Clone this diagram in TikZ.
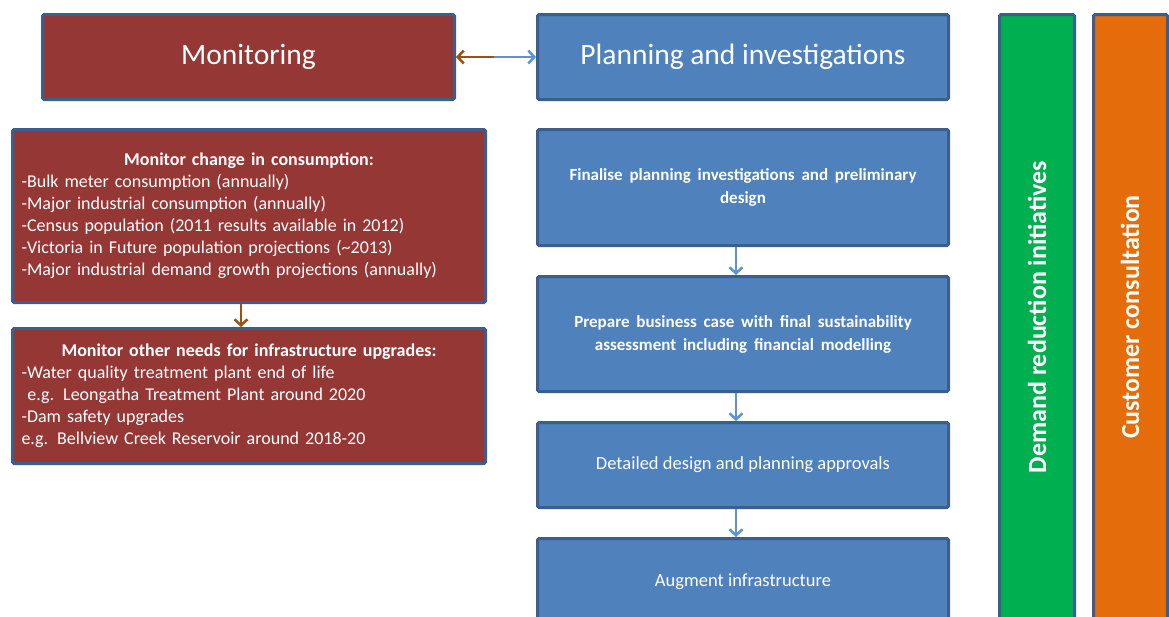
\documentclass[tikz,border=0pt]{standalone}
\usepackage{fontspec}
\setmainfont{Carlito}
\usetikzlibrary{arrows.meta,calc}
\definecolor{bordblue}{HTML}{3B5E8C}
\definecolor{redfill}{HTML}{953735}
\definecolor{bluefill}{HTML}{4F81BD}
\definecolor{greenfill}{HTML}{00B050}
\definecolor{orangefill}{HTML}{E46C0A}
\definecolor{brownarrow}{HTML}{A0500A}
\definecolor{bluearrow}{HTML}{5A93DA}
\newcommand\widewords{\spaceskip=0.4em plus 0.1em\relax}
\newcommand\listwords{\spaceskip=0.3em plus 0.1em\relax}
\tikzset{
  box/.style={draw=bordblue, line width=3pt, rounded corners=1.5pt, text=white, inner sep=0pt},
  redbox/.style={box, fill=redfill},
  bluebox/.style={box, fill=bluefill},
  bigtext/.style={font=\fontsize{29.5}{34}\selectfont},
  steptext/.style={font=\fontsize{18.5}{23}\selectfont, align=center},
  boldstep/.style={font=\bfseries\fontsize{17}{23}\selectfont\widewords, align=center},
  listtext/.style={font=\fontsize{18}{22}\selectfont\listwords, align=left},
  brownarr/.style={draw=brownarrow, line width=2.5pt, -{Straight Barb[length=6pt,width=13pt]}},
  bluearr/.style={draw=bluearrow, line width=2.5pt, -{Straight Barb[length=6pt,width=13pt]}},
  bartext/.style={rotate=90, text=white, font=\bfseries\fontsize{26}{30}\selectfont},
}
\begin{document}
\begin{tikzpicture}[x=1pt,y=-1pt]
\useasboundingbox (0,0) rectangle (1169,616);
\clip (0,0) rectangle (1169,616);
% top boxes
\node[redbox, bigtext, minimum width=412, minimum height=85, anchor=north west] (mon) at (41,13) {Monitoring};
\node[bluebox, bigtext, minimum width=411, minimum height=85, anchor=north west] (plan) at (536,13) {Planning and investigations};
\coordinate (mid) at ($(mon.east)!0.48!(plan.west)$);
\draw[brownarr] (mid) -- (mon.east);
\draw[bluearr] (mid) -- (plan.west);
% left boxes
\node[redbox, listtext, minimum width=473, minimum height=173, text width=455, anchor=north west] (cons) at (11,128)
{\makebox[\linewidth][c]{\bfseries Monitor change in consumption:}\\
-Bulk meter consumption (annually)\\
-Major industrial consumption (annually)\\
-Census population (2011 results available in 2012)\\
-Victoria in Future population projections (\textasciitilde2013)\\
-Major industrial demand growth projections (annually)};
\node[redbox, listtext, minimum width=473, minimum height=135, text width=455, anchor=north west] (other) at (11,327)
{\makebox[\linewidth][c]{\bfseries Monitor other needs for infrastructure upgrades:}\\
-Water quality treatment plant end of life\\
\ e.g. Leongatha Treatment Plant around 2020\\
-Dam safety upgrades\\
e.g. Bellview Creek Reservoir around 2018-20};
\draw[brownarr] (cons.south -| 241,0) -- (other.north -| 241,0);
% planning steps
\node[bluebox, boldstep, minimum width=411, minimum height=116, anchor=north west] (fin) at (536,128)
{Finalise planning investigations and preliminary\\ design};
\node[bluebox, boldstep, minimum width=411, minimum height=115, anchor=north west] (prep) at (536,275)
{Prepare business case with final sustainability\\ assessment including financial modelling};
\node[bluebox, steptext, minimum width=411, minimum height=85, anchor=north west] (det) at (536,421)
{Detailed design and planning approvals};
\node[bluebox, steptext, minimum width=411, minimum height=86, anchor=north west] (aug) at (536,537)
{Augment infrastructure};
\draw[bluearr] (fin.south -| 736,0) -- (prep.north -| 736,0);
\draw[bluearr] (prep.south -| 736,0) -- (det.north -| 736,0);
\draw[bluearr] (det.south -| 736,0) -- (aug.north -| 736,0);
% vertical bars
\node[box, fill=greenfill, minimum width=75, minimum height=620, anchor=north west] (dem) at (998,13) {};
\node[bartext] (demtxt) at (1037,317) {Demand reduction initiatives};
\node[box, fill=orangefill, minimum width=74, minimum height=620, anchor=north west] (cust) at (1092,13) {};
\node[bartext] (custtxt) at (1130,317) {Customer consultation};
\end{tikzpicture}
\end{document}
